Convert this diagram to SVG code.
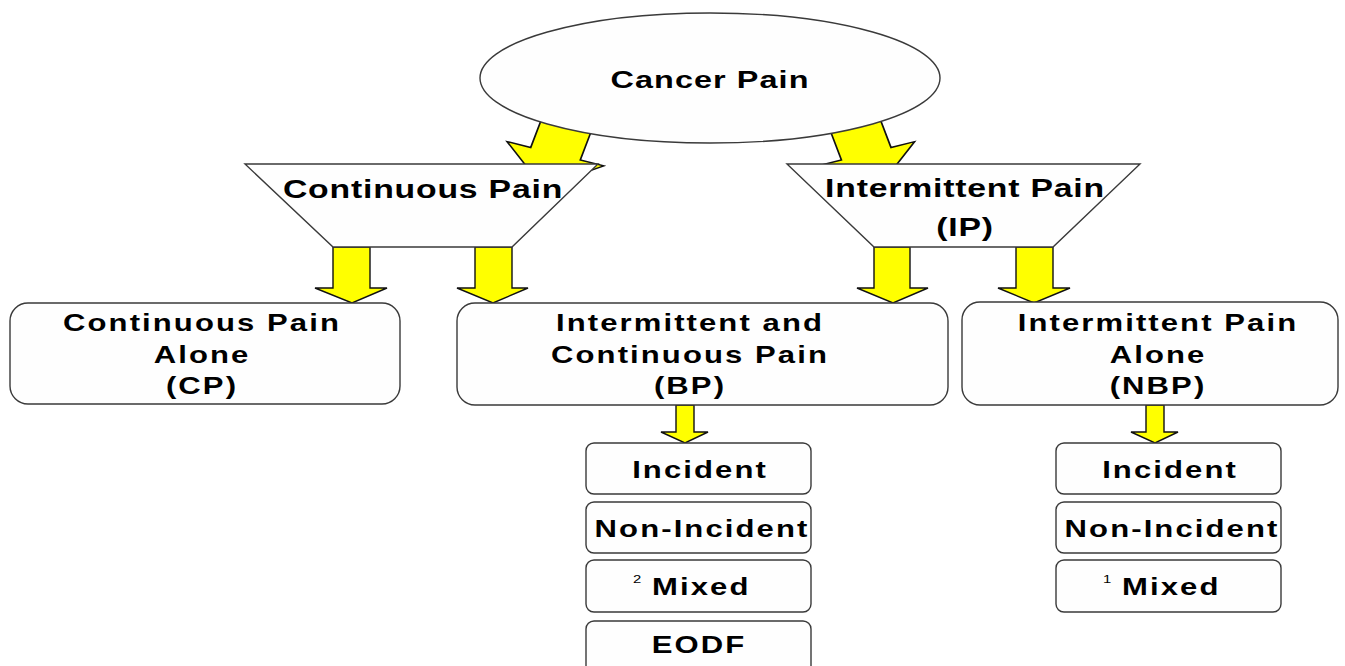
<svg xmlns="http://www.w3.org/2000/svg" width="1345" height="666" viewBox="0 0 1345 666">
<style>
.shape{fill:#fefefe;stroke:#3a3a3a;stroke-width:1.4}
.arrow{fill:#ffff00;stroke:#111;stroke-width:1.4;stroke-linejoin:miter}
.t{font-family:"Liberation Sans",Arial,sans-serif;font-weight:bold;font-size:23px;letter-spacing:1.55px;text-anchor:middle;fill:#000}
.tl{font-family:"Liberation Sans",Arial,sans-serif;font-weight:bold;font-size:25px;letter-spacing:0.6px;text-anchor:middle;fill:#000}
.sm{font-family:"Liberation Sans",Arial,sans-serif;font-weight:normal;font-size:11px;fill:#000}
.ts{font-family:"Liberation Sans",Arial,sans-serif;font-weight:bold;font-size:23px;letter-spacing:1.55px;fill:#000}
</style>
<defs>
<path id="tiltArrow" d="M -21,-14 L 21,-14 L 21,28 L 41,28 L 0,63 L -41,28 L -21,28 Z"/>
</defs>
<g id="connectors">
<use href="#tiltArrow" class="arrow" transform="translate(565.7,127) scale(1.235,1) rotate(17.2)"/>
<use href="#tiltArrow" class="arrow" transform="translate(856,127) scale(-1.235,1) rotate(17.2)"/>
<polygon class="arrow" points="333,247 370,247 370,288 387,288 352,303 315,288 333,288"/>
<polygon class="arrow" points="475,247 512,247 512,288 528,288 493,303 457,288 475,288"/>
<polygon class="arrow" points="874,247 910,247 910,288 928,288 893,303 857,288 874,288"/>
<polygon class="arrow" points="1016,247 1053,247 1053,288 1070,288 1034,303 998,288 1016,288"/>
<polygon class="arrow" points="676,405 694,405 694,432 708,432 685,443 661,432 676,432"/>
<polygon class="arrow" points="1146,405 1164,405 1164,432 1178,432 1155,443 1131,432 1146,432"/>
</g>
<g id="cancer-pain">
<ellipse class="shape" cx="710" cy="78" rx="230" ry="65"/>
<text class="t" style="font-size:24px;letter-spacing:0.8px" transform="translate(710,88) scale(1.35,1)">Cancer Pain</text>
</g>
<g id="continuous-pain">
<polygon class="shape" points="245,164 598,164 512,247 333,247"/>
<text class="tl" transform="translate(423,198) scale(1.35,1)">Continuous Pain</text>
</g>
<g id="intermittent-pain">
<polygon class="shape" points="787,164 1140,164 1053,247 874,247"/>
<text class="tl" transform="translate(965,197) scale(1.35,1)">Intermittent Pain</text>
<text class="tl" transform="translate(965,236) scale(1.35,1)">(IP)</text>
</g>
<g id="cp-alone">
<rect class="shape" x="10" y="303" width="390" height="101" rx="18"/>
<text class="t" transform="translate(202,331) scale(1.35,1)">Continuous Pain</text>
<text class="t" transform="translate(202,363) scale(1.35,1)">Alone</text>
<text class="t" transform="translate(202,394) scale(1.35,1)">(CP)</text>
</g>
<g id="bp">
<rect class="shape" x="457" y="303" width="491" height="102" rx="18"/>
<text class="t" transform="translate(690,331) scale(1.35,1)">Intermittent and</text>
<text class="t" transform="translate(690,363) scale(1.35,1)">Continuous Pain</text>
<text class="t" transform="translate(690,394) scale(1.35,1)">(BP)</text>
</g>
<g id="nbp">
<rect class="shape" x="962" y="302" width="376" height="103" rx="18"/>
<text class="t" transform="translate(1158,331) scale(1.35,1)">Intermittent Pain</text>
<text class="t" transform="translate(1158,363) scale(1.35,1)">Alone</text>
<text class="t" transform="translate(1158,394) scale(1.35,1)">(NBP)</text>
</g>
<g id="bp-incident">
<rect class="shape" x="586" y="443" width="225" height="51" rx="8"/>
<text class="t" transform="translate(700,478) scale(1.35,1)">Incident</text>
</g>
<g id="bp-non-incident">
<rect class="shape" x="586" y="502" width="225" height="51" rx="8"/>
<text class="t" transform="translate(702,537) scale(1.35,1)">Non-Incident</text>
</g>
<g id="bp-mixed">
<rect class="shape" x="586" y="560" width="225" height="52" rx="8"/>
<text class="ts" transform="translate(633,595) scale(1.35,1)"><tspan class="sm" x="0" y="-12">2 </tspan><tspan x="14.1" y="0">Mixed</tspan></text>
</g>
<g id="bp-eodf">
<rect class="shape" x="586" y="621" width="225" height="60" rx="8"/>
<text class="t" transform="translate(699,653) scale(1.35,1)">EODF</text>
</g>
<g id="nbp-incident">
<rect class="shape" x="1056" y="443" width="225" height="51" rx="8"/>
<text class="t" transform="translate(1170,478) scale(1.35,1)">Incident</text>
</g>
<g id="nbp-non-incident">
<rect class="shape" x="1056" y="502" width="225" height="51" rx="8"/>
<text class="t" transform="translate(1172,537) scale(1.35,1)">Non-Incident</text>
</g>
<g id="nbp-mixed">
<rect class="shape" x="1056" y="560" width="225" height="52" rx="8"/>
<text class="ts" transform="translate(1103,595) scale(1.35,1)"><tspan class="sm" x="0" y="-12">1 </tspan><tspan x="14.1" y="0">Mixed</tspan></text>
</g>
</svg>
